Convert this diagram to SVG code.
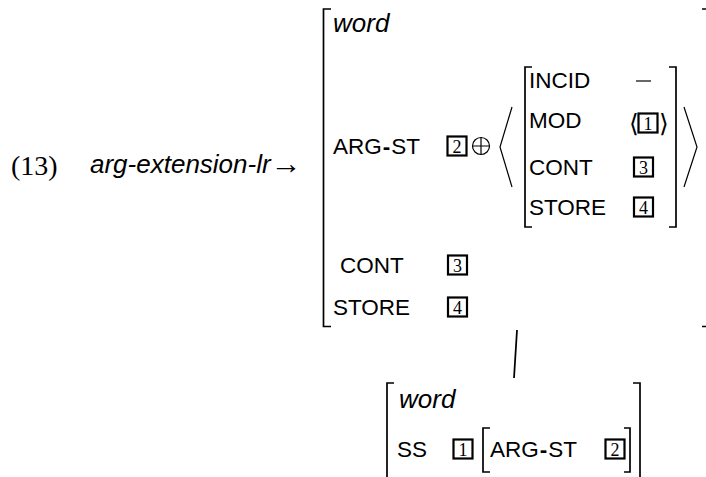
<svg xmlns="http://www.w3.org/2000/svg" width="706" height="477" viewBox="0 0 706 477">
<style>
.b{fill:none;stroke:#000;stroke-width:1.7}
.a{fill:none;stroke:#000;stroke-width:1.2}
.tag{fill:none;stroke:#000;stroke-width:2.2}
.t{font-family:"Liberation Sans",Arial,sans-serif;font-size:22.5px;fill:#000}
.h{font-weight:bold}
.it{font-family:"Liberation Sans",Arial,sans-serif;font-style:italic;font-size:26px;fill:#000}
.n{font-family:"Liberation Serif","Times New Roman",serif;font-size:18px;text-anchor:middle;fill:#000}
.s{font-family:"Liberation Serif","Times New Roman",serif;font-size:28px;fill:#000}
.m{font-family:"DejaVu Serif","DejaVu Sans",serif;font-size:25px;fill:#000}
</style>
<rect width="706" height="477" fill="#fff"/>
<g id="label">
<text class="s" x="11" y="175">(13)</text>
<text class="it" x="90" y="173">arg-extension-lr<tspan style="font-family:'Liberation Serif',serif;font-style:normal;font-size:31px" dy="1">→</tspan></text>
</g>
<g id="avm-top">
<path class="b" d="M331,9 H323.5 V326.5 H331"/>
<path class="b" d="M702,9 H706 M702,326.5 H706"/>
<text class="it" x="333" y="32">word</text>
<text class="t" x="333" y="154">ARG<tspan class="h" dx="1">-</tspan><tspan dx="1">ST</tspan></text>
<rect class="tag" x="447.5" y="136.5" width="19" height="19"/>
<text class="n" x="457" y="152.5">2</text>
<g class="a"><circle cx="481" cy="146" r="8.5"/><path d="M472.5,146 H489.5 M481,137.5 V154.5"/></g>
<text class="t" x="340" y="273">CONT</text>
<rect class="tag" x="448" y="255.5" width="19" height="19"/>
<text class="n" x="457.5" y="271.5">3</text>
<text class="t" x="333" y="315">STORE</text>
<rect class="tag" x="448" y="297.5" width="19" height="19"/>
<text class="n" x="457.5" y="313.5">4</text>
</g>
<g id="avm-inner">
<path class="a" d="M512,107 L500,147 L512,187"/>
<path class="a" d="M684,107 L697,147 L684,187"/>
<path class="b" d="M532,67 H525 V227 H532"/>
<path class="b" d="M669,67 H676 V227 H669"/>
<text class="t" x="529" y="88">INCID</text>
<path class="a" d="M636,81 H651"/>
<text class="t" x="529" y="128">MOD</text>
<text class="m" x="629" y="132">⟨</text>
<rect class="tag" x="638.5" y="113.5" width="19" height="19"/>
<text class="n" x="648" y="129.5">1</text>
<text class="m" x="659" y="132">⟩</text>
<text class="t" x="529" y="175">CONT</text>
<rect class="tag" x="634" y="157.5" width="19" height="19"/>
<text class="n" x="643.5" y="173.5">3</text>
<text class="t" x="529" y="215">STORE</text>
<rect class="tag" x="634" y="197.5" width="19" height="19"/>
<text class="n" x="643.5" y="213.5">4</text>
</g>
<g id="connectors">
<path class="b" d="M517,330 L514,378"/>
</g>
<g id="avm-bottom">
<path class="b" d="M394,383 H387 V478"/>
<path class="b" d="M633,383 H640 V478"/>
<text class="it" x="399" y="408">word</text>
<text class="t" x="397" y="457">SS</text>
<rect class="tag" x="453.5" y="439.5" width="19" height="19"/>
<text class="n" x="463" y="455.5">1</text>
<path class="b" d="M490,428 H483 V472 H490"/>
<text class="t" x="490" y="457">ARG<tspan class="h" dx="1">-</tspan><tspan dx="1">ST</tspan></text>
<rect class="tag" x="605.5" y="439.5" width="19" height="19"/>
<text class="n" x="615" y="455.5">2</text>
<path class="b" d="M624,428 H630 V472 H624"/>
</g>
</svg>
